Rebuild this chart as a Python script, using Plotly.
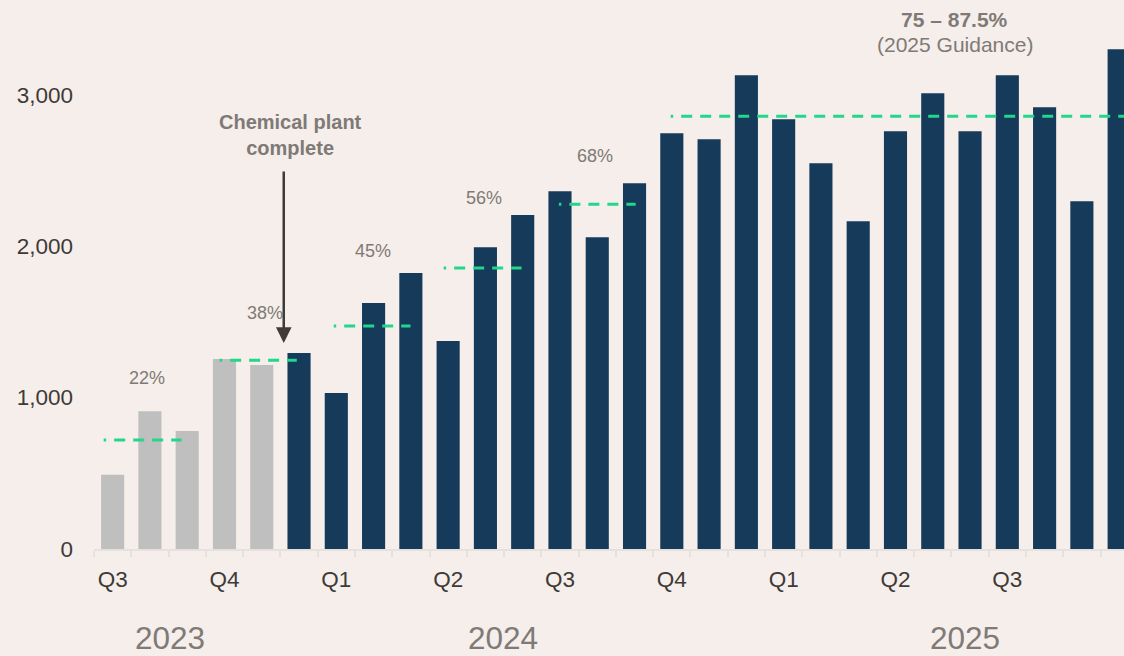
import plotly.graph_objects as go

# ---------------- data ----------------
months = ["Jul 2023", "Aug 2023", "Sep 2023", "Oct 2023", "Nov 2023", "Dec 2023",
          "Jan 2024", "Feb 2024", "Mar 2024", "Apr 2024", "May 2024", "Jun 2024",
          "Jul 2024", "Aug 2024", "Sep 2024", "Oct 2024", "Nov 2024", "Dec 2024",
          "Jan 2025", "Feb 2025", "Mar 2025", "Apr 2025", "May 2025", "Jun 2025",
          "Jul 2025", "Aug 2025", "Sep 2025", "Oct 2025"]
values = [490, 910, 780, 1255, 1215, 1295,
          1030, 1625, 1822, 1373, 1993, 2205,
          2363, 2059, 2416, 2746, 2706, 3129,
          2838, 2548, 2165, 2759, 3010, 2759,
          3129, 2917, 2297, 3300]
phase = ["pre"] * 5 + ["post"] * 23

quarter_ticks = ["Q3", "Q4", "Q1", "Q2", "Q3", "Q4", "Q1", "Q2", "Q3"]
years = ["2023", "2024", "2025"]

util_labels = ["22%", "38%", "45%", "56%", "68%"]
util_levels = [720, 1247, 1472, 1855, 2277]
guidance_label = "75 – 87.5%"
guidance_sub = "(2025 Guidance)"
guidance_level = 2858

y_ticks = [0, 1000, 2000, 3000]

# ---------------- styles / layout positions ----------------
BG = "#f5eeeb"
DARK = "#153a5a"
GRAY = "#bfbfbf"
GREEN = "#22d68c"
TXT = "#3e3a37"
MUTED = "#7f7a76"
AXIS = "#e6e1dd"
FONT = "Liberation Sans, Arial, sans-serif"

X_MAX = 27.13
util_span = [(-0.24, 1.85), (2.87, 4.94), (5.93, 7.99), (8.88, 10.97), (11.97, 14.03)]
guid_span = (14.97, X_MAX)
util_label_pos = [(0.91, 1130), (4.10, 1560), (6.98, 1970), (9.95, 2320), (12.93, 2597)]
year_pos = [1.53, 10.46, 22.86]

idx = list(range(len(months)))
colors = [GRAY if p == "pre" else DARK for p in phase]

fig = go.Figure()
fig.add_trace(go.Bar(x=idx, y=values, marker=dict(color=colors, line=dict(width=0)),
                     width=0.62, hovertext=months, hoverinfo="text+y"))


def dash_for(n):
    return "2.5px,8px," + ",".join(["11px,8px"] * n)


for (x0, x1), lvl in zip(util_span, util_levels):
    fig.add_trace(go.Scatter(x=[x0, x1], y=[lvl, lvl], mode="lines",
                             line=dict(color=GREEN, width=3, dash=dash_for(4)),
                             hoverinfo="skip"))
fig.add_trace(go.Scatter(x=list(guid_span), y=[guidance_level, guidance_level], mode="lines",
                         line=dict(color=GREEN, width=3, dash=dash_for(30)),
                         hoverinfo="skip", cliponaxis=False))

annotations = []
for (lx, ly), t in zip(util_label_pos, util_labels):
    annotations.append(dict(x=lx, y=ly, text=t, showarrow=False, xref="x", yref="y",
                            font=dict(size=18, color=MUTED, family=FONT)))

annotations.append(dict(x=22.59, y=1.0, text="<b>" + guidance_label + "</b>", showarrow=False,
                        xref="x", yref="paper", yanchor="middle",
                        font=dict(size=21, color=MUTED, family=FONT)))
annotations.append(dict(x=22.59, y=3331, text=guidance_sub, showarrow=False,
                        xref="x", yref="y", font=dict(size=21, color=MUTED, family=FONT)))

annotations.append(dict(x=4.78, y=2736, text="<b>Chemical plant<br>complete</b>", showarrow=False,
                        xref="x", yref="y", font=dict(size=20, color=MUTED, family=FONT)))
annotations.append(dict(x=4.59, y=1361, text="", showarrow=True, ax=0, ay=-173,
                        xref="x", yref="y", arrowhead=2, arrowsize=1.25, arrowwidth=2.5,
                        arrowcolor="#403a38", standoff=0))

for yx, yt in zip(year_pos, years):
    annotations.append(dict(x=yx, y=-0.168, text=yt, showarrow=False, xref="x", yref="paper",
                            yanchor="middle", font=dict(size=31.5, color=MUTED, family=FONT)))

fig.update_layout(
    width=1124, height=656,
    margin=dict(l=94.4, r=0, t=19, b=107),
    paper_bgcolor=BG, plot_bgcolor=BG,
    showlegend=False,
    annotations=annotations,
    font=dict(family=FONT, color=TXT),
)
fig.update_xaxes(
    range=[-0.5, X_MAX],
    tickmode="array", tickvals=list(range(0, 27, 3)), ticktext=quarter_ticks,
    ticks="", ticklabelstandoff=9,
    tickfont=dict(size=22.5, color=TXT, family=FONT),
    showline=True, linecolor=AXIS, linewidth=2,
    showgrid=False, zeroline=False,
    minor=dict(tickmode="array", tickvals=[i - 0.5 for i in range(29)], ticks="outside",
               ticklen=6, tickwidth=1.5, tickcolor=AXIS, showgrid=False),
)
fig.update_yaxes(
    range=[0, 3500],
    tickmode="array", tickvals=y_ticks, tickformat=",",
    ticks="", ticklabelstandoff=20,
    tickfont=dict(size=22.5, color=TXT, family=FONT),
    showline=False, showgrid=False, zeroline=False,
)

fig.write_html("out.html", config={"displayModeBar": False},
               post_script="document.body.style.margin='0';")
